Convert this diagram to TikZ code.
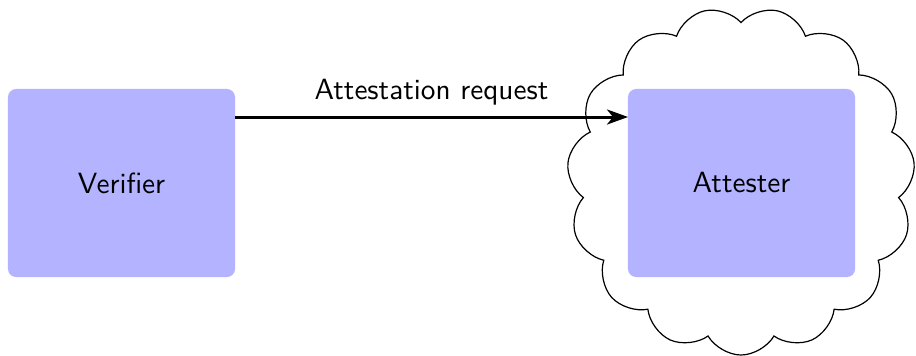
\documentclass[tikz,border=0pt]{standalone}
\usetikzlibrary{shapes.symbols,arrows.meta}
\definecolor{boxblue}{RGB}{179,179,255}
\begin{document}
\begin{tikzpicture}[x=0.3333pt,y=-0.3333pt,
  font=\sffamily\fontsize{9.75}{12}\selectfont,
  entity/.style={fill=boxblue,rounded corners=2.7pt,minimum width=75.67pt,minimum height=62.67pt,inner sep=0pt},
  conn/.style={line width=1pt,-{Stealth[length=7pt,width=5pt,inset=2pt]}}]
\useasboundingbox (0,0) rectangle (916,355);
\node[cloud,draw,cloud puffs=15,cloud puff arc=120,aspect=1,rotate=180,minimum width=116pt,minimum height=116pt,inner sep=0pt] (cl) at (741,181) {};
\node[entity] (ver) at (121.5,183) {Verifier};
\node[entity] (att) at (741.5,183) {Attester};
\coordinate (s) at (235,117);
\coordinate (t) at (628,117);
\draw[conn] (s) -- node[above=0pt] {Attestation request} (t);
\end{tikzpicture}
\end{document}
